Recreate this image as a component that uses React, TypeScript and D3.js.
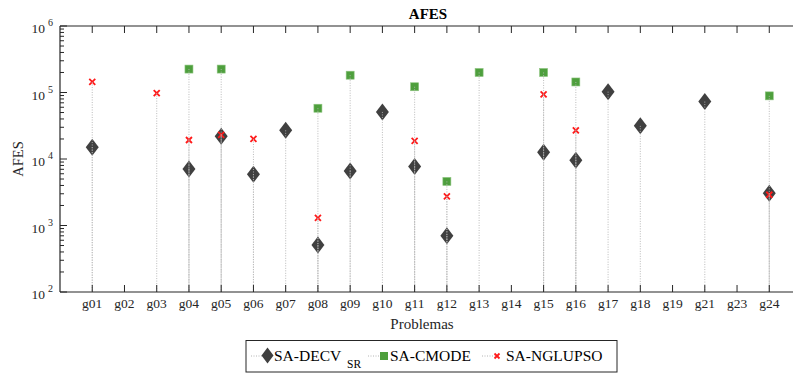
import React from 'react';
import * as d3 from 'd3';

// problems on the x axis
const categories = ['g01', 'g02', 'g03', 'g04', 'g05', 'g06', 'g07', 'g08', 'g09', 'g10', 'g11',
    'g12', 'g13', 'g14', 'g15', 'g16', 'g17', 'g18', 'g19', 'g21', 'g23', 'g24'];

// AFES per algorithm (null = not reported)
const decvSR = [15000, null, null, 7100, 22000, 5900, 27000, 510, 6600, 51000, 7700,
    700, null, null, 12600, 9600, 103000, 31500, null, 73000, null, 3050];
const cmode = [null, null, null, 225000, 225000, null, null, 58000, 182000, null, 122000,
    4600, 200000, null, 200000, 144000, null, null, null, null, null, 89000];
const nglupso = [144000, null, 98000, 19300, 23000, 20000, null, 1300, null, null, 18700,
    2750, null, null, 94000, 27000, null, null, null, null, null, 2900];

const yDecades = [2, 3, 4, 5, 6];

const W = 793, H = 374;
const margin = {top: 26, left: 60, bottom: 292};
const step = 32.24;

const serif = 'Liberation Serif, Times New Roman, Times, DejaVu Serif, serif';
const axisColor = '#262626';
const stemColor = '#b4b4b4';

export default function App() {
    const x = d3.scaleLinear()
        .domain([0, categories.length + 1])
        .range([margin.left, margin.left + step * (categories.length + 1)]);
    const y = d3.scaleLog()
        .domain([1e2, 1e6])
        .range([margin.bottom, margin.top]);

    const right = x.range()[1];

    const minor: number[] = [];
    yDecades.slice(0, -1).forEach(e => {
        for (let k = 2; k <= 9; k++) minor.push(k * Math.pow(10, e));
    });

    const diamond = (cx: number, cy: number, w: number, h: number) =>
        `M${cx},${cy - h}L${cx + w},${cy}L${cx},${cy + h}L${cx - w},${cy}Z`;

    const stems: {cx: number, cy: number}[] = [];
    const pushStems = (arr: (number | null)[]) => arr.forEach((v, i) => {
        if (v != null) stems.push({cx: x(i + 1), cy: y(v)});
    });
    pushStems(decvSR);
    pushStems(cmode);
    pushStems(nglupso);

    const txt = {fontFamily: serif};

    return (
        <div style={{position: 'absolute', left: 0, top: 0}}>
            <svg width={W} height={H} style={{display: 'block'}}>
                <rect width={W} height={H} fill="#fff" />

                {/* markers */}
                <g>
                    {decvSR.map((v, i) => v == null ? null :
                        <path key={'d' + i} d={diamond(x(i + 1), y(v), 6.5, 8.5)} fill="#404040" />)}
                    {cmode.map((v, i) => v == null ? null :
                        <rect key={'c' + i} x={x(i + 1) - 4} y={y(v) - 4} width={8} height={8}
                            fill="#4e9f3d" stroke="#8cc47e" strokeWidth={0.6} />)}
                    {nglupso.map((v, i) => v == null ? null :
                        <g key={'n' + i} stroke="#ff1a1a" strokeWidth={1.8}>
                            <line x1={x(i + 1) - 3} x2={x(i + 1) + 3} y1={y(v) - 3} y2={y(v) + 3} />
                            <line x1={x(i + 1) - 3} x2={x(i + 1) + 3} y1={y(v) + 3} y2={y(v) - 3} />
                        </g>)}
                </g>

                {/* stems */}
                <g stroke={stemColor} strokeWidth={1} strokeDasharray="1,1.5" opacity={0.9}>
                    {stems.map((s, i) =>
                        <line key={i} x1={s.cx} x2={s.cx} y1={s.cy} y2={margin.bottom} />)}
                </g>

                {/* axes */}
                <g stroke={axisColor} strokeWidth={1.2} fill="none">
                    <line x1={margin.left} x2={right} y1={margin.top} y2={margin.top} />
                    <line x1={margin.left} x2={right} y1={margin.bottom} y2={margin.bottom} />
                    <line x1={margin.left} x2={margin.left} y1={margin.top} y2={margin.bottom} />
                </g>
                <g stroke={axisColor} strokeWidth={1}>
                    {categories.map((c, i) => (
                        <g key={c}>
                            <line x1={x(i + 1)} x2={x(i + 1)} y1={margin.bottom} y2={margin.bottom - 7} />
                            <line x1={x(i + 1)} x2={x(i + 1)} y1={margin.top} y2={margin.top + 7} />
                        </g>
                    ))}
                    {yDecades.map(e => (
                        <line key={e} x1={margin.left} x2={margin.left + 7} y1={y(Math.pow(10, e))} y2={y(Math.pow(10, e))} />
                    ))}
                    {minor.map(v => (
                        <line key={v} x1={margin.left} x2={margin.left + 4} y1={y(v)} y2={y(v)} />
                    ))}
                </g>

                {/* tick labels */}
                <g style={txt} fill="#262626">
                    {categories.map((c, i) => (
                        <text key={c} x={x(i + 1)} y={308} fontSize={13.5} textAnchor="middle">{c}</text>
                    ))}
                    {yDecades.map(e => (
                        <g key={e}>
                            <text x={45} y={y(Math.pow(10, e)) + 7} fontSize={13.5} textAnchor="end">10</text>
                            <text x={48} y={y(Math.pow(10, e))} fontSize={10}>{e}</text>
                        </g>
                    ))}
                </g>

                {/* titles */}
                <text style={txt} x={428} y={19} fontSize={15} fontWeight="bold" textAnchor="middle" fill="#000">AFES</text>
                <text style={txt} x={422} y={329} fontSize={15} textAnchor="middle" fill="#262626">Problemas</text>
                <text style={txt} transform={`translate(23,${(margin.top + margin.bottom) / 2}) rotate(-90)`}
                    fontSize={14.5} textAnchor="middle" fill="#262626">AFES</text>

                {/* legend */}
                <g>
                    <rect x={246} y={340.5} width={371} height={31.5} fill="#fff" stroke="#262626" strokeWidth={1} />
                    <g stroke={stemColor} strokeWidth={1} strokeDasharray="1,1.5">
                        <line x1={251} x2={264} y1={356} y2={356} />
                        <line x1={368} x2={382} y1={356} y2={356} />
                        <line x1={482} x2={496} y1={356} y2={356} />
                    </g>
                    <path d={diamond(267.5, 355.5, 6, 8)} fill="#404040" />
                    <rect x={380} y={352} width={8} height={8} fill="#4e9f3d" />
                    <g stroke="#ff1a1a" strokeWidth={1.8}>
                        <line x1={494.5} x2={499.5} y1={353.5} y2={358.5} />
                        <line x1={494.5} x2={499.5} y1={358.5} y2={353.5} />
                    </g>
                    <g style={txt} fontSize={15.5} fill="#000">
                        <text x={274} y={361}>SA-DECV</text>
                        <text x={347} y={368} fontSize={11.5}>SR</text>
                        <text x={390} y={361}>SA-CMODE</text>
                        <text x={506} y={361}>SA-NGLUPSO</text>
                    </g>
                </g>
            </svg>
        </div>
    );
}
